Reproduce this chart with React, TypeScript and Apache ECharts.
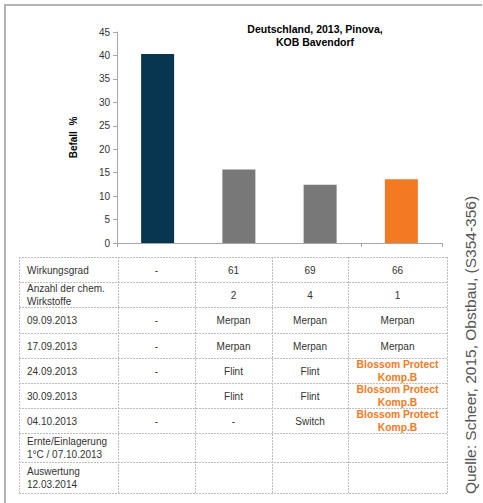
import React, { useEffect, useRef } from "react";
import * as echarts from "echarts";

const categories = ["Kontrolle", "Merpan / Flint", "Merpan / Flint / Switch", "Merpan / Blossom Protect"];
const befall = [40.3, 15.7, 12.4, 13.6];
const barColors = ["#08354F", "#787878", "#787878", "#F27A22"];
const yTicks = { min: 0, max: 45, interval: 5 };

const title = "Deutschland, 2013, Pinova,\nKOB Bavendorf";
const yName = "Befall  %";
const source = "Quelle: Scheer, 2015, Obstbau, (S354-356)";

const rowLabels = [
  "Wirkungsgrad",
  "Anzahl der chem.\nWirkstoffe",
  "09.09.2013",
  "17.09.2013",
  "24.09.2013",
  "30.09.2013",
  "04.10.2013",
  "Ernte/Einlagerung\n1°C / 07.10.2013",
  "Auswertung\n12.03.2014",
];
const col1 = ["-", "", "-", "-", "-", "", "-", "", ""];
const col2 = ["61", "2", "Merpan", "Merpan", "Flint", "Flint", "-", "", ""];
const col3 = ["69", "4", "Merpan", "Merpan", "Flint", "Flint", "Switch", "", ""];
const col4 = ["66", "1", "Merpan", "Merpan", "Blossom Protect\nKomp.B", "Blossom Protect\nKomp.B", "Blossom Protect\nKomp.B", "", ""];
const highlighted = "Blossom Protect\nKomp.B";

export default function App() {
  const ref = useRef<HTMLDivElement>(null);
  useEffect(() => {
    document.body.style.margin = "0";
    const chart = echarts.init(ref.current!, null, { renderer: "svg" });
    const font = "'Liberation Sans', Arial, sans-serif";

    const colX = [19, 118, 195, 272, 348, 447];
    const rowY = [257, 282, 307, 333, 358, 383, 408, 433, 462, 493];
    const lineStyle = { stroke: "#bdbdbd", lineWidth: 1, lineDash: [2, 1] };
    const graphics: any[] = [];
    // frame
    graphics.push({ type: "line", shape: { x1: 4, y1: 5, x2: 482, y2: 5 }, style: { stroke: "#b3b3b3", lineWidth: 2 } });
    graphics.push({ type: "line", shape: { x1: 5, y1: 5, x2: 5, y2: 503 }, style: { stroke: "#b3b3b3", lineWidth: 2 } });
    // table grid
    rowY.forEach((y) =>
      graphics.push({ type: "line", shape: { x1: colX[0], y1: y + 0.5, x2: colX[5], y2: y + 0.5 }, style: lineStyle })
    );
    colX.forEach((x) =>
      graphics.push({ type: "line", shape: { x1: x + 0.5, y1: rowY[0], x2: x + 0.5, y2: rowY[rowY.length - 1] }, style: lineStyle })
    );
    const cols = [col1, col2, col3, col4];
    rowLabels.forEach((label, r) => {
      const cy = (rowY[r] + rowY[r + 1]) / 2;
      graphics.push({
        type: "text",
        x: 27,
        y: cy + 0.5,
        style: { text: label, font: `10px ${font}`, fill: "#333333", align: "left", verticalAlign: "middle", lineHeight: 12.5 },
      });
      cols.forEach((col, c) => {
        const v = col[r];
        if (!v) return;
        const cx = (colX[c + 1] + colX[c + 2]) / 2;
        const isHi = v === highlighted;
        graphics.push({
          type: "text",
          x: cx,
          y: cy + 0.5,
          style: {
            text: v,
            font: isHi ? `bold 10.3px ${font}` : `10px ${font}`,
            fill: isHi ? "#F27A22" : "#333333",
            align: "center",
            verticalAlign: "middle",
            lineHeight: 13.4,
          },
        });
      });
    });
    // source text
    graphics.push({
      type: "text",
      x: 470,
      y: 345,
      rotation: Math.PI / 2,
      style: { text: source, font: `15.5px ${font}`, fill: "#555555", align: "center", verticalAlign: "middle" },
    });

    chart.setOption({
      animation: false,
      title: {
        text: title,
        left: 310,
        top: 17,
        textAlign: "center",
        textStyle: { fontFamily: font, fontSize: 10.5, fontWeight: "bold", color: "#000", lineHeight: 13 },
      },
      grid: { left: 117, top: 32, width: 325, height: 211, containLabel: false },
      xAxis: {
        type: "category",
        data: categories,
        boundaryGap: true,
        axisLine: { lineStyle: { color: "#a6a6a6", width: 1 } },
        axisTick: { show: true, length: 4, lineStyle: { color: "#a6a6a6" } },
        axisLabel: { show: false },
      },
      yAxis: {
        type: "value",
        min: yTicks.min,
        max: yTicks.max,
        interval: yTicks.interval,
        name: yName,
        nameLocation: "middle",
        nameGap: 39,
        nameRotate: 90,
        nameTextStyle: { fontFamily: font, fontSize: 10, fontWeight: "bold", color: "#000" },
        axisLine: { show: true, lineStyle: { color: "#a6a6a6" } },
        axisTick: { show: true, length: 4, lineStyle: { color: "#a6a6a6" } },
        axisLabel: { fontFamily: font, fontSize: 10, color: "#333333", margin: 7 },
        splitLine: { show: false },
      },
      series: [
        {
          type: "bar",
          data: befall.map((v, i) => ({ value: v, itemStyle: { color: barColors[i] } })),
          barWidth: 33,
        },
      ],
      graphic: graphics,
    });
    return () => chart.dispose();
  }, []);
  return <div ref={ref} style={{ width: 483, height: 503, background: "#fff" }} />;
}
